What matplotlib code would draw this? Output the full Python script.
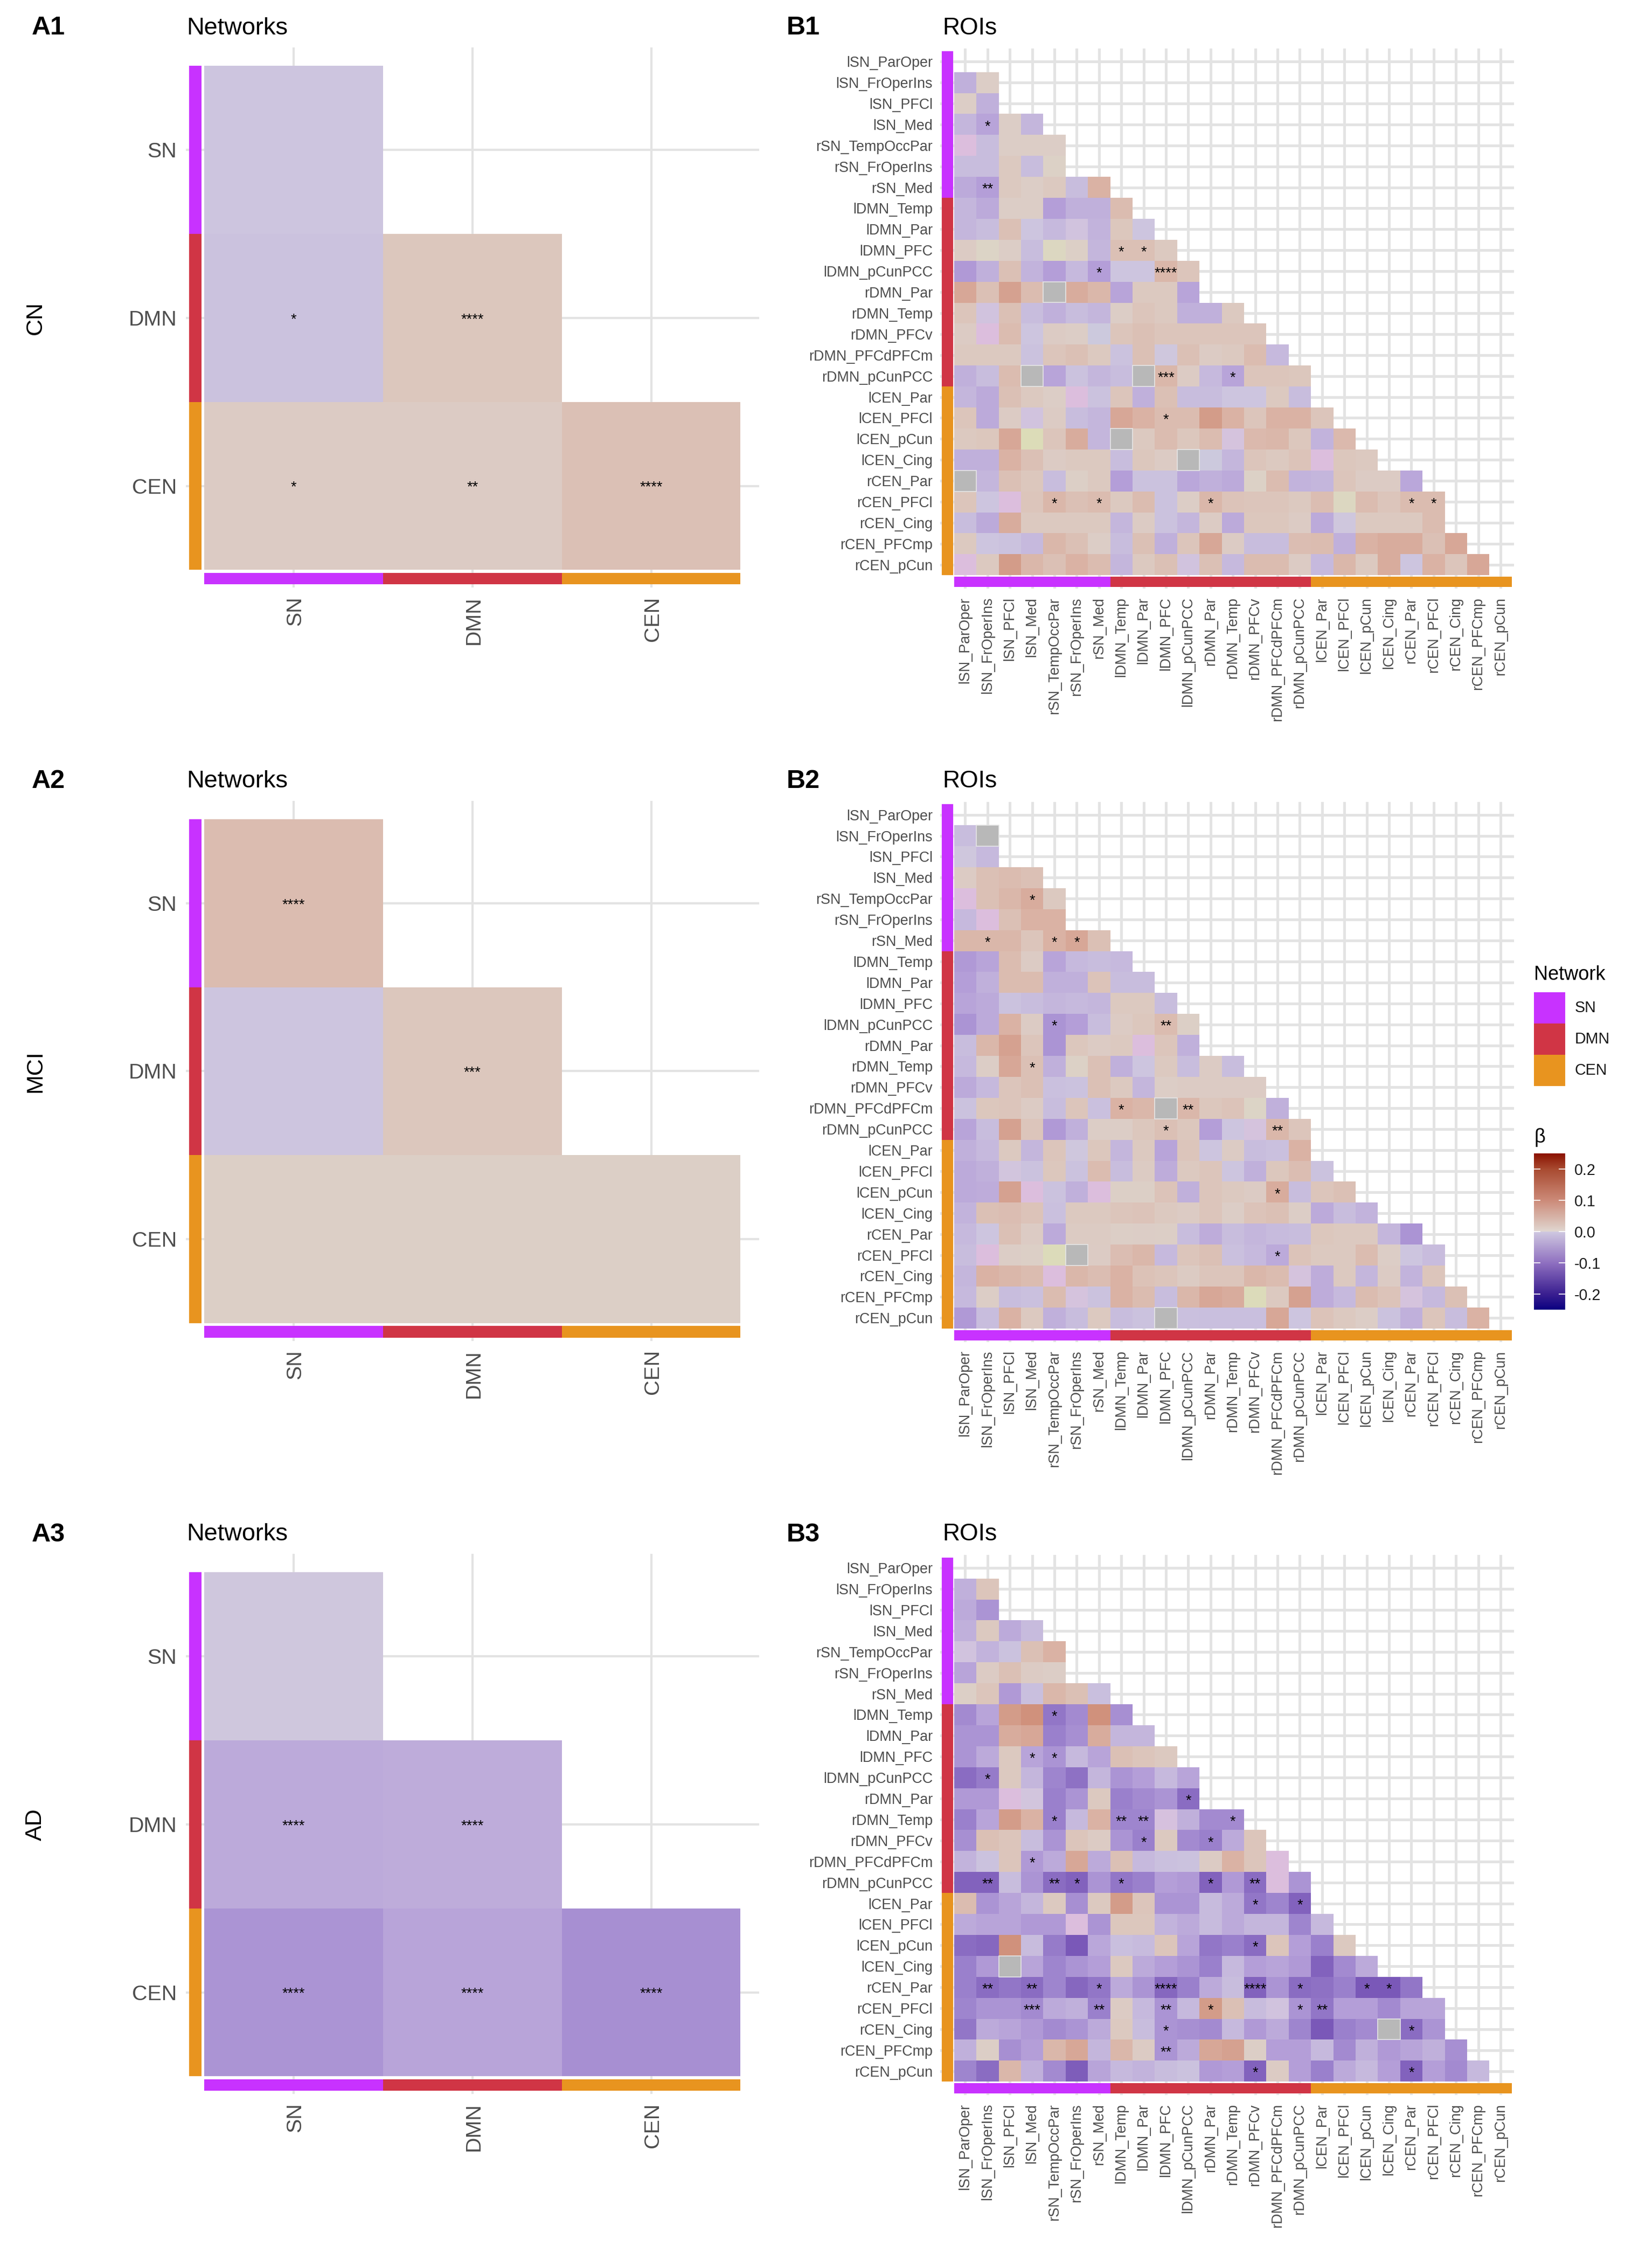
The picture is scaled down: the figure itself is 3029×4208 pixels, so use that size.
import numpy as np
import matplotlib
matplotlib.use('Agg')
import matplotlib.pyplot as plt
from matplotlib.cm import ScalarMappable
from matplotlib.colors import LinearSegmentedColormap, Normalize
from matplotlib.patches import Rectangle
from matplotlib.transforms import ScaledTranslation

plt.rcParams['font.family'] = ['Liberation Sans', 'DejaVu Sans']

W, H = 3029, 4208
ROW_STEP = 1397.5

networks = ['SN', 'DMN', 'CEN']
network_colors = ['#c832ff', '#d03545', '#e8941f']
network_sizes = [7, 9, 9]
groups = ['CN', 'MCI', 'AD']

rois = ['lSN_ParOper', 'lSN_FrOperIns', 'lSN_PFCl', 'lSN_Med', 'rSN_TempOccPar', 'rSN_FrOperIns', 'rSN_Med',
        'lDMN_Temp', 'lDMN_Par', 'lDMN_PFC', 'lDMN_pCunPCC', 'rDMN_Par', 'rDMN_Temp', 'rDMN_PFCv',
        'rDMN_PFCdPFCm', 'rDMN_pCunPCC', 'lCEN_Par', 'lCEN_PFCl', 'lCEN_pCun', 'lCEN_Cing', 'rCEN_Par',
        'rCEN_PFCl', 'rCEN_Cing', 'rCEN_PFCmp', 'rCEN_pCun']

# betas x 100
net_cn = [[-2.0], [-2.2, 2.8], [2.2, 2.2, 3.5]]
net_mci = [[4.0], [-2.0, 2.8], [1.8, 1.8, 1.8]]
net_ad = [[-0.8], [-4.0, -3.8], [-6.0, -4.5, -6.5]]
net_stars_cn = {(1, 0): '*', (1, 1): '****', (2, 0): '*', (2, 1): '**', (2, 2): '****'}
net_stars_mci = {(0, 0): '****', (1, 1): '***'}
net_stars_ad = {(1, 0): '****', (1, 1): '****', (2, 0): '****', (2, 1): '****', (2, 2): '****'}

roi_cn = [
    [],
    [-3.5, 2],
    [2, -3.5],
    [-3, -4.5, 2, -3],
    [-1.2, -2.5, 2, 2, 2],
    [-2.5, -2.5, 2.5, -2.5, 1.5],
    [-4, -5, 2.5, 2, 2.5, -2.5, 5],
    [-3, -4, 2, 2, -5, -3.5, -3.5, 4],
    [-3, -2.5, 3.5, -2, -2.8, -1.8, -3.2, 2.8, -2],
    [2.2, 1.2, 2, -2.5, 1, 1.8, -3, 3.5, 3.5, 2.5],
    [-5.5, -3.5, 3.5, -3.2, -5, -2.8, -5, -2, -2, 4.5, 3],
    [6, 3.5, 6.5, 4, 0, 5.5, 4.5, -4.5, 2.5, 2.5, -4.5],
    [3, -1.8, 3.5, -2.5, -3.5, -2.5, -3, 2, 3, 2.5, -3.5, -3.5, 2.5],
    [2.2, -1.2, 4, -2, 2.2, 2, -0.7, 3, 3.5, 3, 3, 3, 3, 3],
    [2.5, 2.5, 2.5, -2.2, 3, 3.5, 2.5, -2.2, 3.5, -0.8, 3.5, 2.2, 2.5, 4, -2.8],
    [-3.5, -2.5, 4, 0, -4.5, -2.2, -3, -2.5, 0, 4.5, 2.2, -2.8, -4.5, 3, 3, 2.8],
    [-3, -4, 3.5, 2.5, 2, -1.2, -2.2, 3, -3.5, 3.5, -2.5, -2.5, -2, -2, 2.5, -2.5],
    [3, -4, 2.2, -1.8, 2.2, -2.5, -3, 6, 5, 4, 4, 7, 5, 3, 5, 5, 3],
    [2.5, 2.8, 6, 0.6, 3, 5.5, -3, 0, 2.5, 4, 2.8, 4, -1, 4.2, 4.5, 2.8, -3.2, 4.2],
    [-3.5, -3.5, 5, 3.5, 2.2, 2.5, 2.5, -2.5, 2.8, 2.2, 0, -0.7, -3, 3, 2.5, 3.2, -1.2, 2.8, 2.5],
    [0, -3, 3.5, 2.8, -2.5, 1.8, 2.5, -5, -2.2, -2.2, -4.2, -3.5, -4, 1.5, 4, -3.2, -3, 3, 2.2, 2.2, -4.2],
    [3, -2, -1.2, 3, 4.5, 3.5, 4, 2.5, 4, -2.2, 2, 4.5, 3.2, 3, 3, 2.5, 3.8, 1, 4, 3, 4, 4],
    [-2.5, -4, 5.5, 2.5, 2.5, 2.5, 2.5, -3, 2.2, -2.2, -3, 2.2, -4, 2.8, 2.8, 2.2, -4, -0.8, 2.5, 2.5, 2.5, 4],
    [2.5, -2, -2.2, -2.8, 4.5, 3.5, 2, -2.5, 3.5, -3.5, 3, 6, 2.2, -2.5, -2.5, 3.8, 4, -3.5, 5, 5.5, 5.5, 3.5, 6],
    [-1.2, 2.5, 7, 4.5, 3.5, 5, 4, -3, 2.5, 3.5, -1.8, 3.5, -2.8, 4, 4, 2.2, -2.8, 4.5, 2.5, 5.5, -2, 5, 3, 6],
]
roi_mci = [
    [],
    [-2.5, 0],
    [-0.8, -2.8],
    [2.2, 3.5, 4, 3.5],
    [-1.2, 3.5, 4.5, 5.5, 2.5],
    [-2.8, -1.2, 3.5, 5, 5],
    [4.5, 4.5, 4.5, 3, 5, 6, 3.5],
    [-5.5, -4.5, 4, 2.2, -4.5, -2.8, -2.5, -2.8],
    [-5, -3.5, 4, 4, -3.5, -3.5, 3.2, -2.5, -2.5],
    [-4.5, -4, -2.2, -2.5, -3, -2.8, -3, 2.5, 2.5, -2.5],
    [-6, -4, 5, 2.2, -6, -5, -2.5, 2.2, 2.8, 4, 1.8],
    [-2.5, 4.5, 6.5, 3, -6, 2.8, 2.2, 2.5, -1.2, 3, -3.5],
    [-2.8, 2, 6, 3.5, -3.5, 1.6, 3.5, -3.5, -2, 2.5, -2.5, 2.2, -2.5],
    [-4, -2.8, 3, 3.5, -2.3, -2.2, 3.5, 2.5, -3, 2, 2.2, 2.2, 2.2, 2.2],
    [-2.2, 2.8, 3, 2.2, -2.5, 3, -2.3, 5, 4.5, 0, 4.5, 2.8, 3.2, 1.2, -3.5],
    [-4.5, -2.5, 6.5, 3, -5.5, -3.5, 2, 2, 2.8, 3.5, 2.8, -5, -2, -1, 4.5, 3],
    [-3.5, -2.8, 2.5, -3, 3, -0.8, 2.8, -3, 2.5, -4.5, 3, -2, 2.2, -2.5, -2.3, 5],
    [-4, -3.5, -0.9, -2.2, 2.8, -2.2, 4, -2.5, 2.3, -3.8, 2.5, 3, -2, -3.5, 2.8, 3.8, -2.2],
    [-4, -3.8, 6.5, -1.2, -2.2, -3.5, -1.2, 1.8, 1.8, 3.2, -3.5, 3, 2.5, 2.2, 5.5, -2.5, 3, 3.5],
    [-3.2, 3.5, 3.8, 3.2, -2.3, 2.5, 2.5, 3, 3.2, 2.5, 2.2, 3, 2, 3.2, 3.5, 2, -4, -2.5, -3.2],
    [-2.8, -2, 3.5, 2.2, -4, 2.3, 2.3, 1.9, 2, 1.9, -2.5, -3.8, -2.5, -3, -2.7, -2.5, 2.8, 2.5, 2.5, -3, -6],
    [-2.5, -1.2, 2, 1.8, 0.7, 0, 2.2, 3.8, 4.5, -2.8, 3, 3.5, -2.3, -2.8, -4, 3.2, 2.5, 2.5, 4, 2, -2, -2.6],
    [-3, 5, 4.5, 4, -1.2, 4.5, 3.8, 5, 3.3, 3, 2.3, 3, 3, 4.5, 4, -1, -3.8, 2.5, -3, 2.2, -3.2, 3],
    [-2.8, 2, -2.5, -2.3, 4, -1, -2.2, 5, 4, -2.5, 4.5, 6, 5.5, 0.7, 2.5, 6.5, -3.8, -2.8, 4, 3.2, -1, -2.8, 3.5],
    [-5.5, -2.5, 5, 2.5, -3.5, -2.5, 2.5, -2.5, -2.2, 0, -2.3, -2.4, -2.4, -2.4, 6, -2, 3.2, 2.5, 2, -2.2, -3.5, 3, -2.5, 5],
]
roi_ad = [
    [],
    [-3.5, 3],
    [-4, -6],
    [-3.5, 2.5, -4, -2.7],
    [-1.8, -3.2, -2.2, 3.5, 5],
    [-4.5, 2.2, 3.5, 2.2, 2],
    [1.8, 3, -5.5, -2.4, 4.5, 3.5, -2.4],
    [-7, -4.5, 7, 8, -9, -7, 8, -6.5],
    [-6, -6, 5.5, 6, -8, -6.5, 5.5, -3, -3],
    [-6, -4, 2.5, -4.5, -6, -2.8, -4.5, 3.5, 3, 2.5],
    [-10, -8.5, 2.5, -3, -7.5, -9.5, -3, -6, -5, -2.8, -4.5],
    [-5.5, -5.5, -1.2, -0.9, -8, -6, 2.5, -8, -7, -6, -10],
    [-8, -4.5, 7, 5, -8, -2.8, 5, -7.5, -7.5, -1.5, -3.5, -7, -7],
    [-6.5, 3.5, 3, -2.5, -6, 3, 2.2, -6, -8, 2.5, -7, -8, -4, 3],
    [-3.2, -2.2, 3, -5.5, -4, 6, -4, 3.5, -2.8, -2.3, -2.2, 2.2, 5, 3, -1.2],
    [-11, -11, -2.5, -6, -10, -11, -6, -9, -8, -5, -5.5, -11, -5.5, -10, -1.2, -6],
    [4, -6, -4.5, -3, 2.5, -6.5, 2.5, 7, 3, -6, -6, -2.7, -4, -9, -7.5, -11],
    [-4, -4.5, -4.5, -5.5, -5.5, -1.2, -6, 2.8, 2.8, -3.2, -4, -2.7, -4, -3, -3, -7.5, -2.8],
    [-10, -10.5, 8, -2.6, -8.5, -12, -4.2, -2.4, -2.7, 3, -4.5, -9, -8, -10, 3, -5, -8, 2.5],
    [-8, -5.5, 0, -4.5, -7.5, -6, -5, 2.5, -4, -5, -6, -8, -2.8, -5, -4.5, -5.5, -11, -7, -4],
    [-8, -10, -9, -10, -7.5, -10.5, -9, -4, -6, -10.5, -8, -4, -2.5, -11, -6, -10, -9.5, -8, -12, -12, -9],
    [-7.5, -6, -6, -7, -4, -3.5, -8, 2.2, -2.8, -6, -2.8, 7, 3.5, -2.6, -1.8, -6, -9, -5, -5, -7, -4.5, -4.5],
    [-9, -4, -4.5, -5.5, -7, -6, -4, 2.5, -2.5, -6, -6.5, -7, -2.8, -5.5, -4, -7.5, -12, -8, -7, 0, -10, -6],
    [-3.5, 1.9, -6.5, -5, 4.5, 6, -3, 4.5, 2.2, -6, -4, 6, 6.5, 1.9, -5, -5, -2.8, -7, -3.5, -5.5, -4.5, -3.5, -6.5],
    [-7.5, -10, 4.5, -3.5, -7, -11.5, -4.5, -2.8, -3.2, -2.5, -2.2, -5.5, -5, -11, 2.2, -5, -8, -4, -2.8, -5, -11, -5, -7, -2.8],
]

roi_stars_cn = {(3, 1): '*', (6, 1): '**', (9, 7): '*', (9, 8): '*', (10, 6): '*', (10, 9): '****', (15, 9): '***',
                (15, 12): '*', (17, 9): '*', (21, 4): '*', (21, 6): '*', (21, 11): '*', (21, 20): '*', (21, 21): '*'}
roi_stars_mci = {(4, 3): '*', (6, 1): '*', (6, 4): '*', (6, 5): '*', (10, 4): '*', (10, 9): '**', (12, 3): '*',
                 (14, 7): '*', (14, 10): '**', (15, 9): '*', (15, 14): '**', (18, 14): '*', (21, 14): '*'}
roi_stars_ad = {(7, 4): '*', (9, 3): '*', (9, 4): '*', (10, 1): '*', (11, 10): '*', (12, 4): '*', (12, 7): '**',
                (12, 8): '**', (12, 12): '*', (13, 8): '*', (13, 11): '*', (14, 3): '*', (15, 1): '**', (15, 4): '**',
                (15, 5): '*', (15, 7): '*', (15, 11): '*', (15, 13): '**', (16, 13): '*', (16, 15): '*', (18, 13): '*',
                (20, 1): '**', (20, 3): '**', (20, 6): '*', (20, 9): '****', (20, 13): '****', (20, 15): '*',
                (20, 18): '*', (20, 19): '*', (21, 3): '***', (21, 6): '**', (21, 9): '**', (21, 11): '*',
                (21, 15): '*', (21, 16): '**', (22, 9): '*', (22, 20): '*', (23, 9): '**', (24, 13): '*', (24, 20): '*'}

beta_ticks = [0.2, 0.1, 0.0, -0.1, -0.2]

# tile colours, the near-zero tints are what the picture shows
tile_nodes = [(-0.25, '#0a0080'), (-0.20, '#3a1f90'), (-0.12, '#7a58b8'), (-0.08, '#9a80cc'), (-0.05, '#b49ed8'),
              (-0.03, '#c4b6dc'), (-0.02, '#cdc5df'), (-0.012, '#dcbedd'), (-0.006, '#c9cbdd'), (-0.001, '#b8b8b8'),
              (0.001, '#b8b8b8'), (0.006, '#dcdcb8'), (0.012, '#dcd4c6'), (0.02, '#dccdc6'), (0.03, '#dcc5bb'),
              (0.05, '#dab2a4'), (0.08, '#d0917c'), (0.10, '#cc8a78'), (0.20, '#a84a30'), (0.25, '#8b1000')]
bar_nodes = [(-0.25, '#0a0080'), (-0.20, '#3a1f90'), (-0.10, '#8f70c0'), (-0.0005, '#cfc8e0'), (0.0005, '#e0d6d0'),
             (0.10, '#cc8a78'), (0.20, '#a84a30'), (0.25, '#8b1000')]
norm = Normalize(-0.25, 0.25)


def make_cmap(nodes):
    return LinearSegmentedColormap.from_list('beta', [(float(norm(v)), c) for v, c in nodes], N=2048)


tile_cmap = make_cmap(tile_nodes)
bar_cmap = make_cmap(bar_nodes)

fig = plt.figure(figsize=(W / 100, H / 100), dpi=100)


def add_px_axes(left, top, right, bottom):
    return fig.add_axes([left / W, 1 - bottom / H, (right - left) / W, (bottom - top) / H])


def triangle(rows, n):
    m = np.full((n, n), np.nan)
    for i, row in enumerate(rows):
        m[i, :len(row)] = row
    return np.ma.masked_invalid(m / 100)


def heat(box, strips, tiles, labels, sizes, rows, stars, fontsize, pads, grid_lw, star_shift, with_border, label_dx):
    left, top, right, bottom = box
    x0, y0, cw, ch = tiles
    n = len(labels)
    ax = add_px_axes(left, top, right, bottom)
    ax.set_xlim(-0.5 + (left - x0) / cw, -0.5 + (right - x0) / cw)
    ax.set_ylim(-0.5 + (bottom - y0) / ch, -0.5 + (top - y0) / ch)
    for s in ax.spines.values():
        s.set_visible(False)
    ax.set_axisbelow(True)
    ax.grid(True, color='#e3e3e3', lw=grid_lw)
    ax.set_xticks(range(n))
    ax.set_yticks(range(n))
    ax.set_xticklabels(labels, rotation=90, fontsize=fontsize, color='#4d4d4d', va='top', ha='center')
    ax.set_yticklabels(labels, fontsize=fontsize, color='#4d4d4d')
    ax.tick_params(axis='x', length=0, pad=pads[0])
    ax.tick_params(axis='y', length=0, pad=pads[1])
    for lbl in ax.get_xticklabels():
        lbl.set_transform(lbl.get_transform() + ScaledTranslation(label_dx / 100, 0, fig.dpi_scale_trans))

    m = triangle(rows, n)
    edges = np.arange(n + 1) - 0.5
    ax.pcolormesh(edges, edges, m, cmap=tile_cmap, norm=norm, zorder=2, linewidth=0, antialiased=False)
    if with_border:
        for i, j in zip(*np.where(m.filled(1) == 0)):
            ax.add_patch(Rectangle((j - 0.5, i - 0.5), 1, 1, fill=False, ec='#e6e6e6', lw=1.2, zorder=3))
    for (i, j), txt in stars.items():
        ax.text(j, i - star_shift, txt, ha='center', va='center', fontsize=19.5, color='black', zorder=4)

    # network strips along both axes
    strip_l, strip_r = -0.5 + (strips[0] - x0) / cw, -0.5 + (strips[1] - x0) / cw
    strip_t, strip_b = -0.5 + (strips[2] - y0) / ch, -0.5 + (strips[3] - y0) / ch
    start = -0.5
    for size, col in zip(sizes, network_colors):
        ax.add_patch(Rectangle((strip_l, start), strip_r - strip_l, size, fc=col, ec='none', zorder=3))
        ax.add_patch(Rectangle((start, strip_t), size, strip_b - strip_t, fc=col, ec='none', zorder=3))
        start += size
    return ax


net_rows = [net_cn, net_mci, net_ad]
net_stars = [net_stars_cn, net_stars_mci, net_stars_ad]
roi_rows = [roi_cn, roi_mci, roi_ad]
roi_stars = [roi_stars_cn, roi_stars_mci, roi_stars_ad]

for k, group in enumerate(groups):
    dy = k * ROW_STEP

    heat((345, 88 + dy, 1409, 1090 + dy), (351, 374.3, 1062.7 + dy, 1084 + dy),
         (379, 122.3 + dy, 331.8, 311.7), networks, [1, 1, 1], net_rows[k], net_stars[k],
         28.4, (12, 12), 3.0, -0.01, False, 3)
    fig.text(59 / W, 1 - (52 + dy) / H, 'A%d' % (k + 1), fontsize=35, fontweight='bold', va='center')
    fig.text(346 / W, 1 - (52 + dy) / H, 'Networks', fontsize=32.5, va='center')
    fig.text(66 / W, 1 - (590 + dy) / H, group, fontsize=31, rotation=90, ha='center', va='center')

    heat((1745, 90 + dy, 2810, 1092 + dy), (1748, 1768.7, 1070 + dy, 1089 + dy),
         (1770.7, 94.7 + dy, 41.4, 38.9), rois, network_sizes, roi_rows[k], roi_stars[k],
         19.4, (11.5, 10), 3.6, -0.1, True, 0)
    fig.text(1460 / W, 1 - (52 + dy) / H, 'B%d' % (k + 1), fontsize=35, fontweight='bold', va='center')
    fig.text(1749 / W, 1 - (52 + dy) / H, 'ROIs', fontsize=32, va='center')

# network legend
fig.text(2847 / W, 1 - 1809 / H, 'Network', fontsize=26, va='center')
for i, (name, col) in enumerate(zip(networks, network_colors)):
    top = 1841 + i * 58
    fig.add_artist(Rectangle((2847 / W, 1 - (top + 58) / H), 58 / W, 58 / H, transform=fig.transFigure, fc=col, ec='none'))
    fig.text(2923 / W, 1 - (top + 29) / H, name, fontsize=20.6, va='center', color='#1a1a1a')

# beta colour bar
fig.text(2847 / W, 1 - 2110 / H, 'β', fontsize=26, va='center')
cax = add_px_axes(2847, 2140, 2905, 2430)
cb = fig.colorbar(ScalarMappable(norm=norm, cmap=bar_cmap), cax=cax)
cb.outline.set_visible(False)
cb.set_ticks(beta_ticks)
cb.set_ticklabels(['%.1f' % t for t in beta_ticks])
cax.tick_params(axis='y', direction='in', left=True, right=True, color='white', length=8.5, width=1.2,
                labelsize=20.6, labelcolor='#1a1a1a', pad=12)

fig.savefig('out.png', dpi=100)
